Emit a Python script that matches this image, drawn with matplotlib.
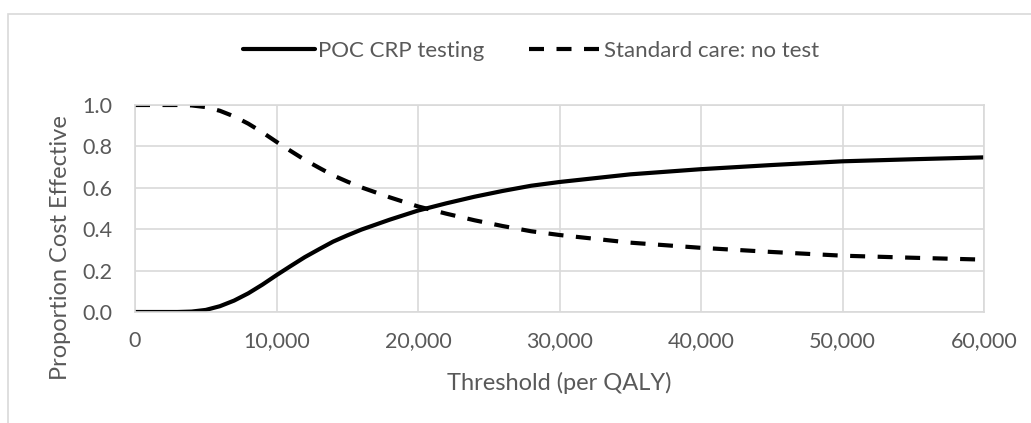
import matplotlib
matplotlib.use("Agg")
import matplotlib.pyplot as plt
from matplotlib.patches import Rectangle
from matplotlib.ticker import FuncFormatter

plt.rcParams['font.family'] = ['Lato', 'DejaVu Sans']

# willingness-to-pay threshold (per QALY)
threshold = [0, 2000, 3000, 4000, 5000, 6000, 7000, 8000, 9000, 10000,
             11000, 12000, 13000, 14000, 15000, 16000, 17000, 18000, 19000, 20000,
             22000, 24000, 26000, 28000, 30000, 35000, 40000, 45000, 50000, 55000, 60000]

poc_crp = [0.0, 0.0, 0.0, 0.002, 0.01, 0.028, 0.055, 0.09, 0.132, 0.178,
           0.222, 0.265, 0.303, 0.34, 0.37, 0.398, 0.422, 0.446, 0.468, 0.49,
           0.525, 0.557, 0.585, 0.61, 0.628, 0.665, 0.69, 0.71, 0.728, 0.738, 0.747]

no_test = [1.0, 1.0, 1.0, 0.998, 0.99, 0.972, 0.945, 0.91, 0.868, 0.822,
           0.778, 0.735, 0.697, 0.66, 0.63, 0.602, 0.578, 0.554, 0.532, 0.51,
           0.475, 0.443, 0.415, 0.39, 0.372, 0.335, 0.31, 0.29, 0.272, 0.262, 0.253]

xticks = [0, 10000, 20000, 30000, 40000, 50000, 60000]
yticks = [0.0, 0.2, 0.4, 0.6, 0.8, 1.0]

grey = '#595959'
gridc = '#d9d9d9'
fs = 15.5

fig = plt.figure(figsize=(10.31, 4.23), dpi=100)
ax = fig.add_axes([135/1031, 1-312/423, 849/1031, 207/423])

# outer chart border
fig.patches.append(Rectangle((8/1031, -0.1), 1.2, 1-14/423+0.1, transform=fig.transFigure,
                             fill=False, edgecolor=gridc, lw=1.2))

ax.plot(threshold, poc_crp, color='black', lw=3, label='POC CRP testing', solid_capstyle='round')
ax.plot(threshold, no_test, color='black', lw=3, linestyle=(0, (3.6, 3.0)),
        label='Standard care: no test')

ax.set_xlim(0, 60000)
ax.set_ylim(0, 1)
ax.set_xticks(xticks)
ax.set_yticks(yticks)
ax.xaxis.set_major_formatter(FuncFormatter(lambda v, p: f'{int(v):,}'))
ax.yaxis.set_major_formatter(FuncFormatter(lambda v, p: f'{v:.1f}'))
ax.grid(True, color=gridc, lw=1.2)
ax.set_axisbelow(True)
for s in ax.spines.values():
    s.set_color(gridc)
    s.set_linewidth(1.2)
ax.tick_params(length=0, labelsize=fs, labelcolor=grey)
ax.tick_params(axis='x', pad=14)
ax.tick_params(axis='y', pad=16)

ax.set_xlabel('Threshold (per QALY)', fontsize=17, color=grey, va='top')
ax.xaxis.set_label_coords(0.5, -0.29)
ax.set_ylabel('Proportion Cost Effective', fontsize=17, color=grey, va='center')
ax.yaxis.set_label_coords(-0.088, 0.31)

fig.legend(loc='center', bbox_to_anchor=(531/1031, 1-51/423), ncol=2, frameon=False,
           fontsize=16, labelcolor=grey, handlelength=3.25, handletextpad=0.15,
           columnspacing=2.0)

fig.savefig('out.png', dpi=100)
